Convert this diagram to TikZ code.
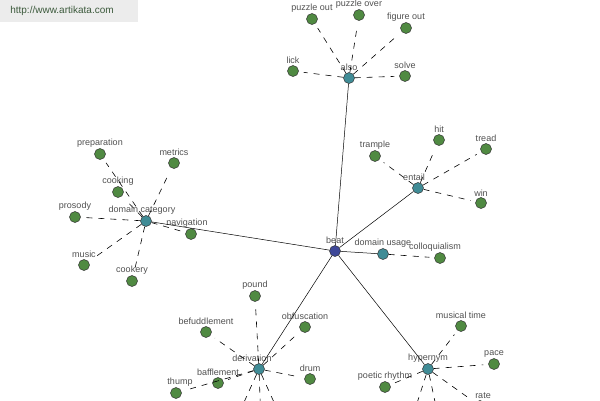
\documentclass[tikz,border=0pt]{standalone}
\usepackage{fontspec}
\setmainfont{Liberation Sans}
\definecolor{leafgreen}{RGB}{80,138,66}
\definecolor{hubteal}{RGB}{64,140,150}
\definecolor{rootblue}{RGB}{62,72,152}
\definecolor{lbltext}{RGB}{80,80,80}
\definecolor{wmbox}{RGB}{236,236,236}
\definecolor{wmtext}{RGB}{60,90,60}

\begin{document}
\begin{tikzpicture}[
  x=1pt,
  y=-1pt,
  font=\fontsize{9}{10}\selectfont,
  dot/.style={circle, draw=black!80, line width=0.5pt, minimum size=11pt, inner sep=0pt},
  leaf/.style={dot, fill=leafgreen},
  hub/.style={dot, fill=hubteal},
  root/.style={dot, fill=rootblue},
  lbl/.style={text=lbltext, inner sep=1pt, label distance=0pt},
  link/.style={line width=0.5pt},
  rel/.style={line width=0.6pt, dash pattern=on 6pt off 6pt, shorten >=5pt}
]

\useasboundingbox (0,0) rectangle (600,400);

% watermark
\fill[wmbox] (0,0) rectangle (138,22);
\node[text=wmtext, font=\fontsize{10}{11}\selectfont] (site) at (62,11) {http://www.artikata.com};

\node[root, label={[lbl]above:beat}] (beat) at (335,251) {};

% also
\node[hub, label={[lbl]above:also}] (also) at (349,78) {};
\node[leaf, label={[lbl]above:puzzle out}] (puzzleOut) at (312,19) {};
\node[leaf, label={[lbl]above:puzzle over}] (puzzleOver) at (359,15) {};
\node[leaf, label={[lbl]above:figure out}] (figureOut) at (406,28) {};
\node[leaf, label={[lbl]above:lick}] (lick) at (293,71) {};
\node[leaf, label={[lbl]above:solve}] (solve) at (405,76) {};

% entail
\node[hub, label={[lbl,xshift=-4pt]above:entail}] (entail) at (418,188) {};
\node[leaf, label={[lbl]above:trample}] (trample) at (375,156) {};
\node[leaf, label={[lbl]above:hit}] (hit) at (439,140) {};
\node[leaf, label={[lbl]above:tread}] (tread) at (486,149) {};
\node[leaf, label={[lbl]above:win}] (win) at (481,203) {};

% domain category
\node[hub, label={[lbl,xshift=-4pt]above:domain category}] (domCat) at (146,221) {};
\node[leaf, label={[lbl]above:preparation}] (preparation) at (100,154) {};
\node[leaf, label={[lbl]above:metrics}] (metrics) at (174,163) {};
\node[leaf, label={[lbl]above:cooking}] (cooking) at (118,192) {};
\node[leaf, label={[lbl]above:prosody}] (prosody) at (75,217) {};
\node[leaf, label={[lbl,xshift=-4pt]above:navigation}] (navigation) at (191,234) {};
\node[leaf, label={[lbl]above:music}] (music) at (84,265) {};
\node[leaf, label={[lbl]above:cookery}] (cookery) at (132,281) {};

% domain usage
\node[hub, label={[lbl]above:domain usage}] (domUsage) at (383,254) {};
\node[leaf, label={[lbl,xshift=-5pt]above:colloquialism}] (colloquialism) at (440,258) {};

% derivation
\node[hub, label={[lbl,xshift=-7pt]above:derivation}] (derivation) at (259,369) {};
\node[leaf, label={[lbl]above:pound}] (pound) at (255,296) {};
\node[leaf, label={[lbl]above:befuddlement}] (befuddlement) at (206,332) {};
\node[leaf, label={[lbl]above:obfuscation}] (obfuscation) at (305,327) {};
\node[leaf, label={[lbl]above:bafflement}] (bafflement) at (218,383) {};
\node[leaf, label={[lbl,xshift=4pt]above:thump}] (thump) at (176,393) {};
\node[leaf, label={[lbl]above:drum}] (drum) at (310,379) {};
\coordinate (derivA) at (236,420);
\coordinate (derivB) at (261,425);
\coordinate (derivC) at (282,420);

% hypernym
\node[hub, label={[lbl]above:hypernym}] (hypernym) at (428,369) {};
\node[leaf, label={[lbl]above:musical time}] (musicalTime) at (461,326) {};
\node[leaf, label={[lbl]above:pace}] (pace) at (494,364) {};
\node[leaf, label={[lbl]above:poetic rhythm}] (poeticRhythm) at (385,387) {};
\node[leaf, label={[lbl,xshift=3pt]above:rate}] (rate) at (480,406) {};
\coordinate (hyperA) at (410,425);
\coordinate (hyperB) at (440,425);

% relations from beat
\foreach \h in {also, entail, domCat, domUsage, derivation, hypernym}
  \draw[link] (beat) -- (\h);

\foreach \l in {puzzleOut, puzzleOver, figureOut, lick, solve}
  \draw[rel] (also) -- (\l);
\foreach \l in {trample, hit, tread, win}
  \draw[rel] (entail) -- (\l);
\foreach \l in {preparation, metrics, cooking, prosody, navigation, music, cookery}
  \draw[rel] (domCat) -- (\l);
\draw[rel] (domUsage) -- (colloquialism);
\foreach \l in {pound, befuddlement, obfuscation, bafflement, thump, drum, derivA, derivB, derivC}
  \draw[rel] (derivation) -- (\l);
\foreach \l in {musicalTime, pace, poeticRhythm, rate, hyperA, hyperB}
  \draw[rel] (hypernym) -- (\l);

\end{tikzpicture}
\end{document}
